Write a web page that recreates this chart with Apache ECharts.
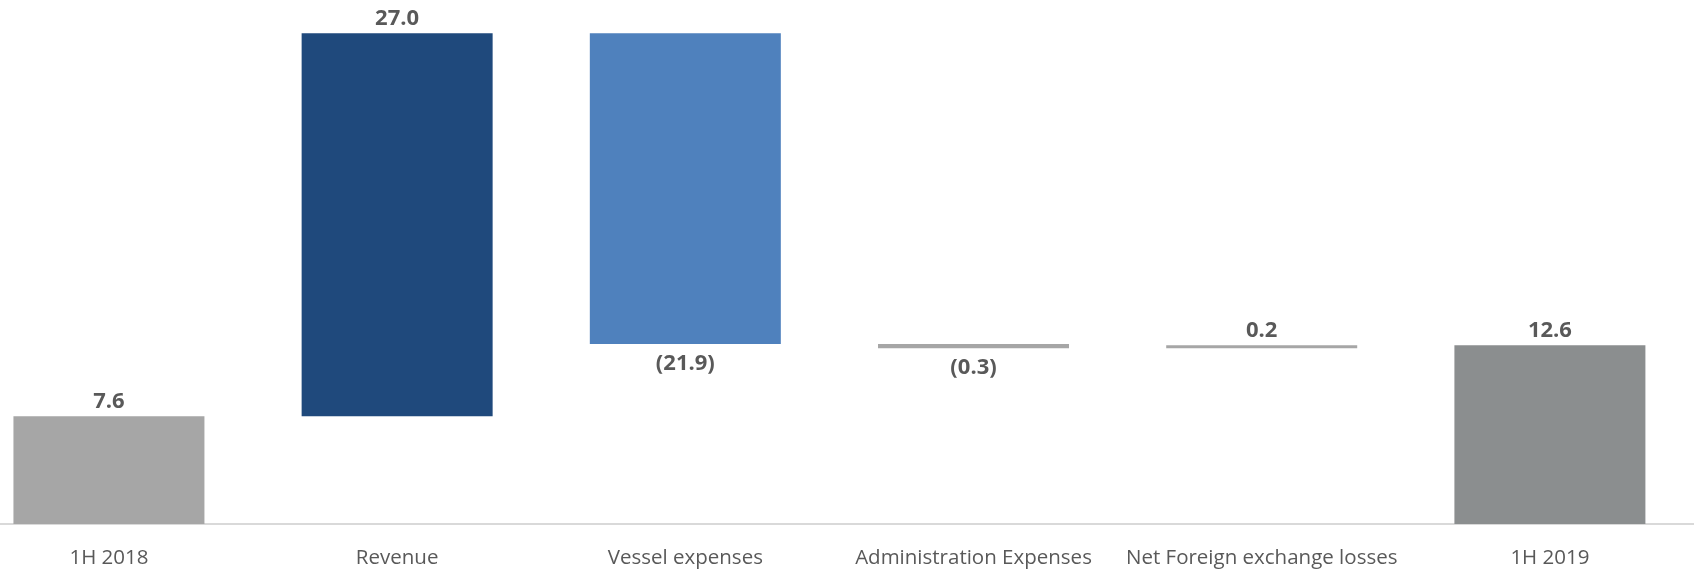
<!DOCTYPE html>
<html>
<head>
<meta charset="utf-8">
<script src="https://cdn.jsdelivr.net/npm/echarts@6/dist/echarts.min.js"></script>
<style>
  html, body { margin: 0; padding: 0; background: #ffffff; }
  #chart { width: 1694px; height: 572px; }
</style>
</head>
<body>
<div id="chart"></div>
<script>
// Bridge from 1H 2018 to 1H 2019
const categories = ['1H 2018', 'Revenue', 'Vessel expenses', 'Administration Expenses', 'Net Foreign exchange losses', '1H 2019'];
const values = [7.6, 27.0, -21.9, -0.3, 0.2, 12.6];
const isTotal = [true, false, false, false, false, true];
const valueLabels = ['7.6', '27.0', '(21.9)', '(0.3)', '0.2', '12.6'];
const barColors = ['#a6a6a6', '#1f497c', '#4f81bd', '#a6a6a6', '#a6a6a6', '#8b8e8f'];
const categoryIndex = categories.map((c, i) => i);

// Each step becomes a floating bar [index, low, high]
const steps = [];
let running = 0;
values.forEach((v, i) => {
  if (isTotal[i]) {
    steps.push([i, 0, v]);
    running = v;
  } else {
    const next = running + v;
    steps.push([i, Math.min(running, next), Math.max(running, next)]);
    running = next;
  }
});

const BAR_WIDTH = 191;
const LABEL_FONT = { fontFamily: 'Open Sans', fontWeight: 'bold', fontSize: 22, fill: '#595959' };

function renderStep(params, api) {
  const i = api.value(0);
  const lo = api.value(1);
  const hi = api.value(2);
  const top = api.coord([i, hi]);
  const bottom = api.coord([i, lo]);
  const below = values[i] < 0;
  return {
    type: 'group',
    children: [
      {
        type: 'rect',
        shape: { x: top[0] - BAR_WIDTH / 2, y: top[1], width: BAR_WIDTH, height: bottom[1] - top[1] },
        style: { fill: barColors[i] }
      },
      {
        type: 'text',
        x: top[0],
        y: below ? bottom[1] + 19.5 : top[1] - 14.5,
        style: Object.assign({
          text: valueLabels[i],
          align: 'center',
          verticalAlign: 'middle'
        }, LABEL_FONT)
      }
    ]
  };
}

const chart = echarts.init(document.getElementById('chart'), null, { renderer: 'canvas' });
chart.setOption({
  animation: false,
  backgroundColor: '#ffffff',
  grid: { left: 0, right: 0, top: 13.5, bottom: 48, containLabel: false },
  xAxis: {
    type: 'value',
    // first band is partly cut off at the left edge
    min: -0.378,
    max: 5.5,
    splitLine: { show: false },
    axisLine: { show: true, onZero: false, lineStyle: { color: '#d9d9d9', width: 2 } },
    axisTick: { show: false },
    axisLabel: {
      customValues: categoryIndex,
      formatter: (v) => categories[Math.round(v)] || '',
      margin: 24,
      fontFamily: 'Open Sans',
      fontSize: 20.5,
      color: '#595959'
    }
  },
  yAxis: {
    type: 'value',
    min: 0,
    max: 36,
    show: false,
    splitLine: { show: false }
  },
  series: [
    {
      type: 'custom',
      data: steps,
      encode: { x: 0, y: [1, 2] },
      renderItem: renderStep,
      clip: false
    }
  ]
});
</script>
</body>
</html>
